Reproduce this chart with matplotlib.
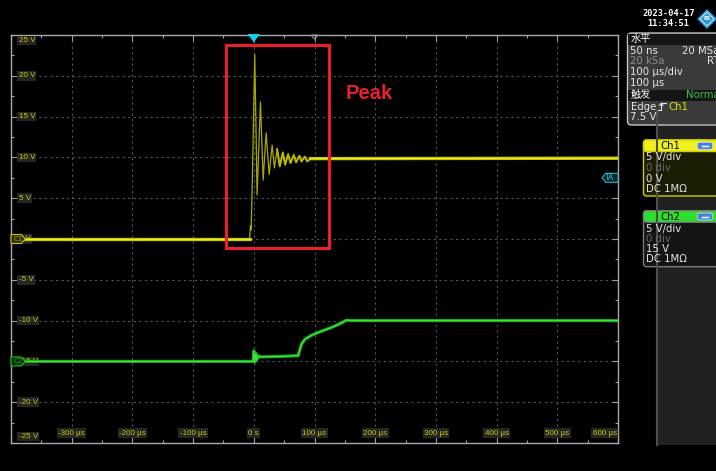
import numpy as np
import matplotlib
matplotlib.use('Agg')
import matplotlib.pyplot as plt
from matplotlib.patches import Rectangle, Polygon, FancyBboxPatch
from matplotlib.transforms import ScaledTranslation

plt.rcParams['font.family'] = ['DejaVu Sans', 'Noto Sans CJK SC']

# Ch1 (yellow) - time in us, volts
t_ch1 = [-400, -7, -5.5, -4.5, -3, 1.6, 5.4, 11.0, 15.4, 20.3, 25.3, 30.2, 33.9,
         38.4, 42.8, 47.8, 51.6, 56.6, 60.4, 65.9, 69.7, 75.2, 78.6, 84.0, 87.9,
         93.4, 600]
v_ch1 = [0, 0, 1.6, 1.1, 5.0, 22.6, 5.4, 16.8, 7.2, 13.0, 7.9, 11.5, 8.7,
         11.0, 8.9, 10.6, 9.1, 10.4, 9.3, 10.3, 9.4, 10.2, 9.5, 10.1, 9.5,
         9.85, 9.9]

# Ch2 (green), displayed with -15 V offset
t_ch2 = [-400, -1, 0, 1.6, 3.3, 4.9, 7.1, 10, 40, 73, 78.5, 84, 95, 111.4,
         127.9, 144.4, 152.6, 161, 600]
v_ch2 = [-15, -15, -13.7, -15.1, -14.0, -14.8, -14.3, -14.45, -14.4, -14.3,
         -12.9, -12.3, -11.8, -11.3, -10.85, -10.3, -9.95, -10.0, -10.0]

x_ticks = list(range(-400, 601, 100))
y_ticks = list(range(-25, 26, 5))
x_labels = ['', '-300 µs', '-200 µs', '-100 µs', '0 s', '100 µs', '200 µs',
            '300 µs', '400 µs', '500 µs', '600 µs']
y_labels = [f'{v} V' for v in y_ticks]

trigger_level = 7.5
ch2_offset = -15
h_position = 100
peak_box_t = (-46.6, 124.0)
peak_box_v = (-1.1, 23.8)

W, H = 716, 471
fig = plt.figure(figsize=(W / 100, H / 100), dpi=100, facecolor='black')
ax = fig.add_axes([11 / W, 28 / H, 607 / W, 408 / H])
ax.set_facecolor('black')

ax.set_xticks(x_ticks)
ax.set_yticks(y_ticks)
ax.set_xticks(np.arange(-400, 601, 50), minor=True)
ax.set_yticks(np.arange(-25, 26, 2.5), minor=True)
ax.tick_params(which='both', direction='in', color='#a0a0a0', top=True,
               right=True, labelbottom=False, labelleft=False)
ax.tick_params(which='major', length=4, width=0.8)
ax.tick_params(which='minor', length=2.5, width=0.8)
ax.grid(True, which='major', color='#555555', linestyle=(0, (2, 3)), linewidth=0.8)
for s in ax.spines.values():
    s.set_color('#a8a8a8')
    s.set_linewidth(1)

# tick labels drawn inside the graticule like the scope does
lab_kw = dict(color='#c8c800', fontsize=5.8, family='Liberation Sans',
              bbox=dict(fc='#262626', ec='none', pad=0.9), zorder=4)
for v, lab in zip(y_ticks, y_labels):
    yy = v
    if v == 25:
        yy = v - 0.65
    elif v == -25:
        yy = v + 0.8
    ax.text(-387.6, yy, lab, ha='left', va='center', **lab_kw)
for t, lab in zip(x_ticks, x_labels):
    if not lab:
        continue
    if t == 600:
        ax.text(598, -23.8, lab, ha='right', va='center', **lab_kw)
    else:
        ax.text(t, -23.8, lab, ha='center', va='center', **lab_kw)

# traces
ax.plot(t_ch2, v_ch2, color='#18a818', lw=2.3, zorder=5)
ax.plot(t_ch2, v_ch2, color='#40e040', lw=0.9, zorder=5)
ax.plot(t_ch1, v_ch1, color='#a8a800', lw=0.9, zorder=5)
ax.plot(t_ch1[13:], v_ch1[13:], color='#b8b800', lw=1.4, zorder=5)
ax.plot(t_ch1[:2], v_ch1[:2], color='#c8c800', lw=2.4, zorder=5)
ax.plot(t_ch1[-2:], v_ch1[-2:], color='#c8c800', lw=2.4, zorder=5)
ax.plot(t_ch1[:2], v_ch1[:2], color='#ecec20', lw=0.8, zorder=5)
ax.plot(t_ch1[-2:], v_ch1[-2:], color='#ecec20', lw=0.8, zorder=5)


def px_poly(x, y, verts, **kw):
    tr = fig.dpi_scale_trans + ScaledTranslation(x, y, ax.transData)
    p = Polygon(np.array(verts) / fig.dpi, closed=True, transform=tr,
                clip_on=False, **kw)
    ax.add_artist(p)


# channel markers on the left
arrow_r = [(0, -4.5), (10, -4.5), (14.5, 0), (10, 4.5), (0, 4.5)]
px_poly(-400, 0, arrow_r, fc='#2c2c06', ec='#c8c800', lw=0.8, zorder=7)
ax.annotate('C1', xy=(-400, 0), xytext=(2.5, 0), textcoords='offset pixels',
            color='#a8a800', fontsize=5, va='center', ha='left', zorder=8)
px_poly(-400, ch2_offset, arrow_r, fc='#0a2c0a', ec='#20c020', lw=0.8, zorder=7)
ax.annotate('C2', xy=(-400, ch2_offset), xytext=(2.5, 0), textcoords='offset pixels',
            color='#20b020', fontsize=5, va='center', ha='left', zorder=8)

# trigger level marker on the right
arrow_l = [(0, -4.5), (-12, -4.5), (-16, 0), (-12, 4.5), (0, 4.5)]
px_poly(600, trigger_level, arrow_l, fc='#06222a', ec='#20b8c8', lw=0.8, zorder=7)
ax.annotate('TA', xy=(600, trigger_level), xytext=(-8, 0), textcoords='offset pixels',
            color='#30c8d8', fontsize=5.5, va='center', ha='center', zorder=8)

# trigger point and horizontal position on top
px_poly(0, 25, [(-6, 1), (6, 1), (0, -7.5)], fc='#10d0e8', ec='none', zorder=8)
px_poly(h_position, 25, [(-3.5, 0), (3.5, 0), (0, -4)], fc='none', ec='#909090',
        lw=0.8, zorder=8)

# red annotation
ax.add_patch(Rectangle((peak_box_t[0], peak_box_v[0]), peak_box_t[1] - peak_box_t[0],
                       peak_box_v[1] - peak_box_v[0], fill=False, ec='#e8202a',
                       lw=2.3, zorder=9))
ax.text(151.6, 17.8, 'Peak', color='#e8202a', fontsize=14.5, fontweight='bold',
        family='Liberation Sans', ha='left', va='center', zorder=9)

ax.set_xlim(-400, 600)
ax.set_ylim(-25, 25)

# right side panel, pixel coordinates
ov = fig.add_axes([0, 0, 1, 1], zorder=10)
ov.set_xlim(0, W)
ov.set_ylim(H, 0)
ov.axis('off')

ov.add_patch(Rectangle((656, 110), 70, 335, fc='#212121', ec='none'))
ov.plot([656.8, 656.8], [110, 445], color='#4e4e4e', lw=1.5)

ov.text(668.5, 13, '2023-04-17', color='white', fontsize=6.2, family='DejaVu Sans Mono',
        fontweight='bold', ha='center', va='center')
ov.text(668.5, 23.5, '11:34:51', color='white', fontsize=6.2, family='DejaVu Sans Mono',
        fontweight='bold', ha='center', va='center')
ov.add_patch(Polygon([(697, 19), (707, 9), (717, 19), (707, 29)], fc='#2196dc', ec='none'))
ov.add_patch(Polygon([(700, 19), (707, 12), (714, 19), (707, 26)], fc='none', ec='white',
                     lw=0.6))
ov.text(707, 19, 'RS', color='white', fontsize=3.5, ha='center', va='center',
        fontweight='bold')

# horizontal / trigger info box
ov.add_patch(FancyBboxPatch((627.5, 33), 100, 92, boxstyle='round,pad=0,rounding_size=4',
                            fc='#3a3a3a', ec='#c4c4c4', lw=1))
ov.add_patch(Rectangle((628.3, 34), 95, 10.5, fc='#151515', ec='none'))
ov.add_patch(Rectangle((628.3, 89.5), 95, 11, fc='#151515', ec='none'))
pk = dict(fontsize=7.3, va='center', ha='left')
ov.text(630.5, 39, '水平', color='white', **pk)
ov.text(630.5, 50.7, '50 ns', color='#e8e8e8', **pk)
ov.text(681.5, 50.7, '20 MSa', color='#e8e8e8', **pk)
ov.text(630.5, 61, '20 kSa', color='#8c8c8c', **pk)
ov.text(706.5, 61, 'RT', color='#e8e8e8', **pk)
ov.text(630.5, 71.7, '100 µs/div', color='#e8e8e8', **pk)
ov.text(630.5, 82.7, '100 µs', color='#e8e8e8', **pk)
ov.text(630.5, 95, '触发', color='white', **pk)
ov.text(686, 95, 'Normal', color='#40c040', **pk)
ov.text(630.5, 106.7, 'Edge', color='#e8e8e8', **pk)
ov.plot([657.5, 661.2, 661.2, 665.5], [110, 110, 102.5, 102.5], color='#e8e8e8', lw=0.8)
ov.plot([659.5, 661.2, 662.9], [105.5, 103.3, 105.5], color='#e8e8e8', lw=0.8)
ov.text(668.5, 106.7, 'Ch1', color='#e0e000', **pk)
ov.text(630.5, 117.3, '7.5 V', color='#e8e8e8', **pk)


def channel_box(y0, y1, head_col, edge_col, body_col, name, rows):
    ov.add_patch(FancyBboxPatch((643.5, y0), 85, y1 - y0, boxstyle='round,pad=0,rounding_size=3',
                                fc=body_col, ec=edge_col, lw=1))
    ov.add_patch(FancyBboxPatch((643.5, y0), 85, 11.5, boxstyle='round,pad=0,rounding_size=3',
                                fc=head_col, ec=edge_col, lw=1))
    ov.text(670, y0 + 6, name, color='black', fontsize=7.3, ha='center', va='center')
    ov.add_patch(FancyBboxPatch((697.5, y0 + 2.3), 15, 7, boxstyle='round,pad=0,rounding_size=2',
                                fc='#4a80e0', ec='#c0d4f4', lw=0.6))
    ov.plot([702, 708], [y0 + 5.8, y0 + 5.8], color='white', lw=1)
    for yy, txt, col in rows:
        ov.text(645.5, yy, txt, color=col, **pk)


channel_box(140, 196, '#f0f020', '#d0d000', '#1c1c05', 'Ch1',
            [(156.7, '5 V/div', '#e8e8e8'), (168.3, '0 div', '#6a6a6a'),
             (179.3, '0 V', '#e8e8e8'), (189.3, 'DC 1MΩ', '#e8e8e8')])
channel_box(210.7, 266.7, '#2ce02c', '#7a7a7a', '#141414', 'Ch2',
            [(229, '5 V/div', '#e8e8e8'), (239.2, '0 div', '#6a6a6a'),
             (249.3, '15 V', '#e8e8e8'), (259.4, 'DC 1MΩ', '#e8e8e8')])

fig.savefig('out.png', dpi=100, facecolor='black')
